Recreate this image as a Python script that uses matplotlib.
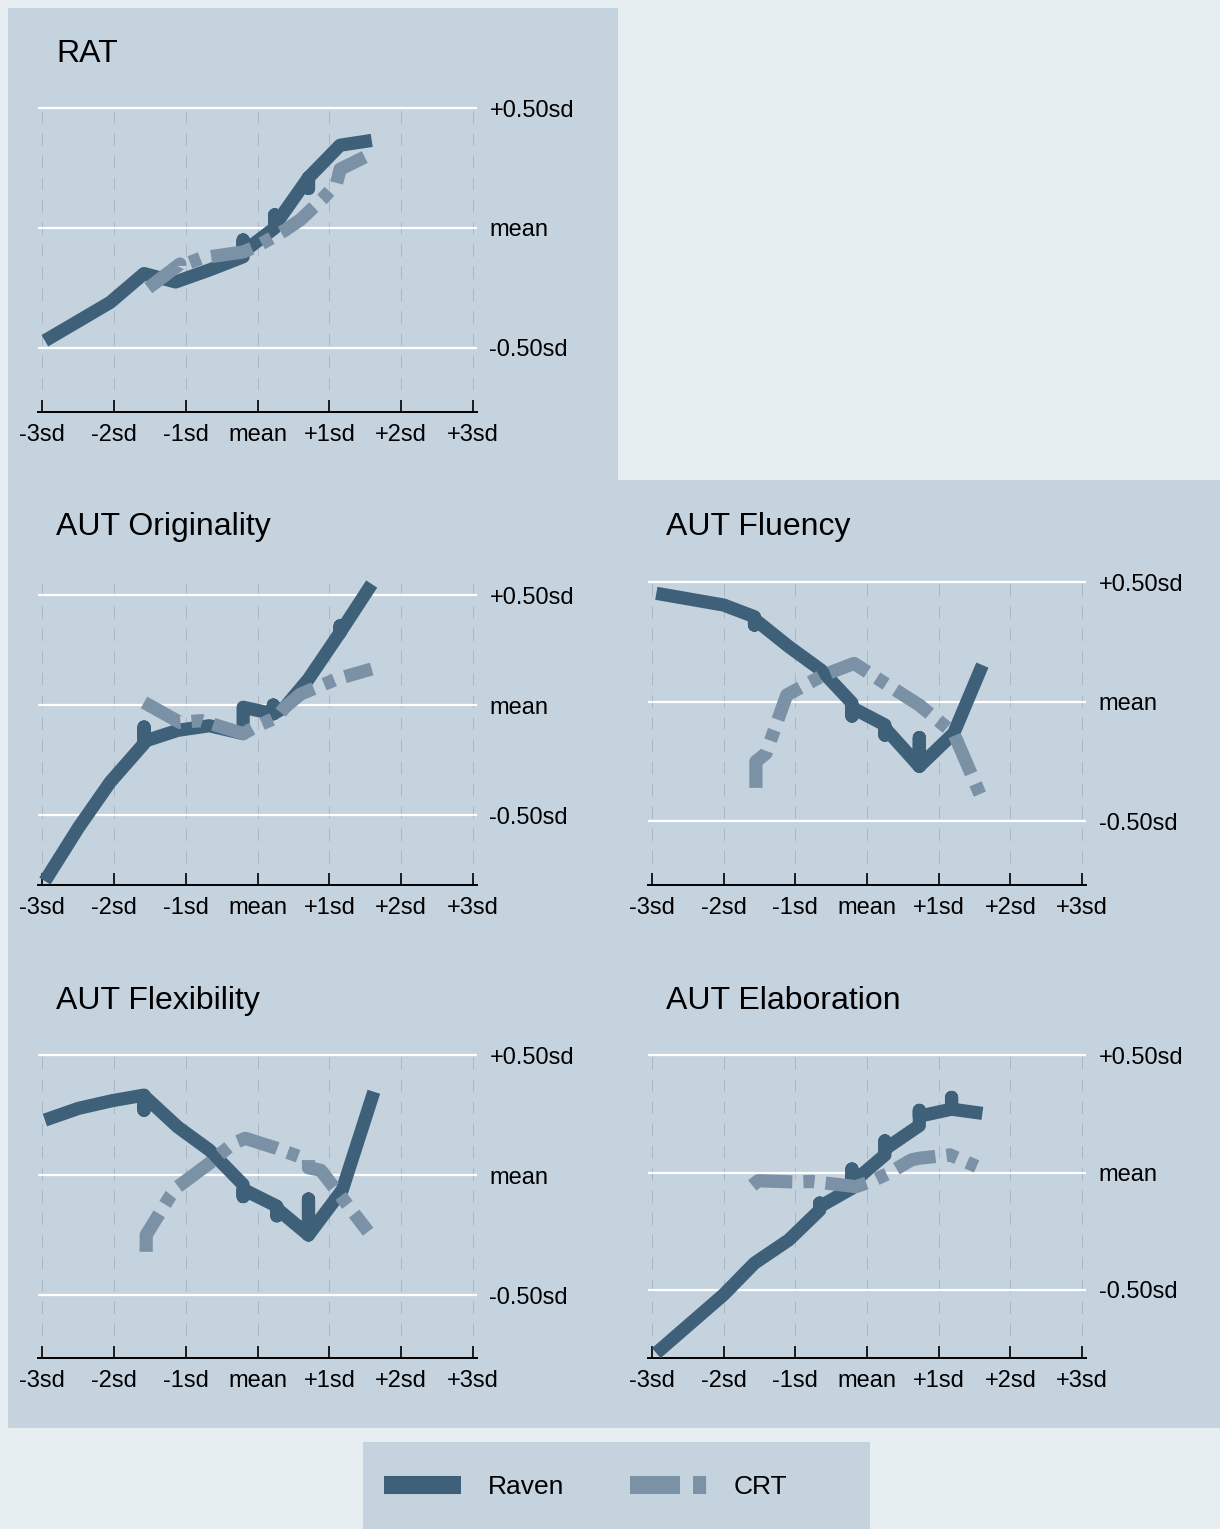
import matplotlib
matplotlib.use('Agg')
import matplotlib.pyplot as plt
from matplotlib.patches import Rectangle
from matplotlib.lines import Line2D

plt.rcParams['font.family'] = ['Liberation Sans', 'DejaVu Sans']
plt.rcParams['lines.scale_dashes'] = False

W, H = 1220, 1529

# ---- data (in sd units) ----
xticks = [-3, -2, -1, 0, 1, 2, 3]
xlabels = ['-3sd', '-2sd', '-1sd', 'mean', '+1sd', '+2sd', '+3sd']
yticks = [-0.5, 0, 0.5]
ylabels = ['-0.50sd', 'mean', '+0.50sd']

rat_raven_x = [-2.96, -2.05, -1.58, -1.14, -0.67, -0.20, -0.20, -0.20, 0.24, 0.24, 0.24, 0.71, 0.71, 0.71, 1.15, 1.59]
rat_raven_y = [-0.47, -0.31, -0.19, -0.225, -0.175, -0.12, -0.05, -0.10, 0.00, 0.055, 0.01, 0.21, 0.165, 0.21, 0.345, 0.365]
rat_crt_x = [-1.52, -1.08, -1.08, -0.78, -0.20, 0.0, 0.38, 0.60, 0.90, 1.10, 1.15, 1.59]
rat_crt_y = [-0.25, -0.15, -0.16, -0.125, -0.10, -0.075, -0.01, 0.035, 0.12, 0.185, 0.245, 0.31]

orig_raven_x = [-2.96, -2.49, -2.05, -1.58, -1.58, -1.58, -1.11, -0.67, -0.20, -0.20, 0.22, 0.22, 0.22, 0.38, 0.71, 1.15, 1.15, 1.15, 1.59]
orig_raven_y = [-0.80, -0.556, -0.35, -0.175, -0.10, -0.165, -0.115, -0.094, -0.13, -0.01, -0.04, 0.0, -0.04, -0.01, 0.118, 0.33, 0.36, 0.33, 0.55]
orig_crt_x = [-1.58, -1.08, -0.78, -0.20, 0.0, 0.27, 0.38, 0.60, 1.10, 1.59]
orig_crt_y = [0.012, -0.079, -0.071, -0.13, -0.094, -0.056, -0.01, 0.05, 0.118, 0.164]

flu_raven_x = [-2.94, -2.0, -1.57, -1.57, -1.57, -1.09, -0.64, -0.21, -0.21, -0.21, 0.25, 0.25, 0.25, 0.73, 0.73, 0.73, 1.21, 1.61]
flu_raven_y = [0.453, 0.404, 0.355, 0.32, 0.345, 0.23, 0.132, -0.005, -0.06, -0.025, -0.097, -0.14, -0.11, -0.27, -0.15, -0.27, -0.132, 0.153]
flu_crt_x = [-1.55, -1.55, -1.41, -1.12, -0.61, -0.18, 0.25, 0.73, 1.21, 1.61]
flu_crt_y = [-0.36, -0.25, -0.216, 0.028, 0.111, 0.16, 0.077, -0.014, -0.132, -0.41]

flex_raven_x = [-2.96, -2.49, -2.02, -1.58, -1.58, -1.58, -1.11, -0.67, -0.20, -0.20, -0.20, 0.27, 0.27, 0.27, 0.71, 0.71, 0.71, 1.18, 1.62]
flex_raven_y = [0.229, 0.278, 0.31, 0.333, 0.27, 0.33, 0.20, 0.104, -0.04, -0.09, -0.06, -0.13, -0.17, -0.14, -0.25, -0.10, -0.25, -0.0625, 0.347]
flex_crt_x = [-1.55, -1.55, -1.22, -1.11, -0.67, -0.34, -0.17, 0.27, 0.71, 0.71, 0.88, 1.54]
flex_crt_y = [-0.32, -0.25, -0.09, -0.049, 0.049, 0.132, 0.153, 0.111, 0.0625, 0.03, 0.02, -0.236]

elab_raven_x = [-2.94, -2.0, -1.57, -1.09, -0.66, -0.66, -0.66, -0.21, -0.21, -0.21, 0.25, 0.25, 0.25, 0.73, 0.73, 0.73, 1.18, 1.18, 1.18, 1.61]
elab_raven_y = [-0.769, -0.52, -0.386, -0.287, -0.16, -0.13, -0.145, -0.067, 0.015, -0.045, 0.075, 0.135, 0.10, 0.20, 0.265, 0.24, 0.27, 0.32, 0.27, 0.252]
elab_crt_x = [-1.60, -1.52, -1.01, -0.77, -0.155, 0.06, 0.30, 0.62, 0.73, 1.16, 1.53]
elab_crt_y = [-0.055, -0.035, -0.04, -0.038, -0.06, -0.038, -0.003, 0.054, 0.061, 0.075, 0.026]

raven_col = '#3e6079'
crt_col = '#7b91a6'
panel_col = '#c5d3df'
outer_col = '#e6eef1'
vgrid_col = '#abb8c4'

fig = plt.figure(figsize=(W / 100, H / 100), dpi=100, facecolor=outer_col)


def box(x0, y0, x1, y1):
    # rectangle given in pixels from the top-left corner
    fig.patches.append(Rectangle((x0 / W, 1 - y1 / H), (x1 - x0) / W, (y1 - y0) / H,
                                 transform=fig.transFigure, facecolor=panel_col,
                                 edgecolor='none', zorder=-5))


box(8, 8, 618, 481)
box(8, 480, 1220, 1428)
box(363, 1442, 870, 1529)

# title, data, plot region in pixels (left, right, top, bottom), y limits
panels = [
    ('RAT', rat_raven_x, rat_raven_y, rat_crt_x, rat_crt_y, (38, 477, 103, 412), (-0.767, 0.521), (56, 62)),
    ('AUT Originality', orig_raven_x, orig_raven_y, orig_crt_x, orig_crt_y, (38, 477, 577, 885), (-0.818, 0.582), (56, 535)),
    ('AUT Fluency', flu_raven_x, flu_raven_y, flu_crt_x, flu_crt_y, (648, 1086, 578, 885), (-0.766, 0.517), (666, 535)),
    ('AUT Flexibility', flex_raven_x, flex_raven_y, flex_crt_x, flex_crt_y, (38, 477, 1050, 1358), (-0.7625, 0.521), (56, 1009)),
    ('AUT Elaboration', elab_raven_x, elab_raven_y, elab_crt_x, elab_crt_y, (648, 1086, 1050, 1358), (-0.79, 0.522), (666, 1009)),
]

for title, rx, ry, cx, cy, (l, r, t, b), ylim, (tx, ty) in panels:
    ax = fig.add_axes([l / W, 1 - b / H, (r - l) / W, (b - t) / H])
    ax.set_zorder(1)
    ax.patch.set_visible(False)
    ax.set_xlim(-3.056, 3.056)
    ax.set_ylim(*ylim)
    for s in ['top', 'left', 'right']:
        ax.spines[s].set_visible(False)
    ax.spines['bottom'].set_linewidth(1.4)
    ax.set_xticks(xticks)
    ax.set_xticklabels(xlabels)
    ax.yaxis.tick_right()
    ax.set_yticks(yticks)
    ax.set_yticklabels(ylabels)
    ax.tick_params(axis='x', direction='in', length=8.5, width=1.2, pad=8.5, labelsize=17)
    ax.tick_params(axis='y', length=0, pad=9, labelsize=17)
    for x in xticks:
        ax.axvline(x, color=vgrid_col, lw=0.7, ls=(0, (9, 7)), zorder=1)
    for y in yticks:
        ax.axhline(y, color='white', lw=1.6, zorder=1)
    ax.plot(rx, ry, color=raven_col, lw=9.5, solid_joinstyle='round', solid_capstyle='butt', zorder=3)
    ax.plot(cx, cy, color=crt_col, lw=9.5, dashes=(30, 8, 8, 8), dash_capstyle='butt',
            dash_joinstyle='round', zorder=4)
    fig.text(tx / W, 1 - ty / H, title, fontsize=23, ha='left', va='baseline')

handles = [Line2D([], [], color=raven_col, lw=13, solid_capstyle='butt'),
           Line2D([], [], color=crt_col, lw=13, dashes=(36, 9.4, 9.4, 9.4), dash_capstyle='butt')]
fig.legend(handles, ['Raven', 'CRT'], loc='center left', bbox_to_anchor=(384 / W, 1 - 1487 / H),
           ncol=2, frameon=False, fontsize=19, handlelength=2.92, handletextpad=1.0,
           columnspacing=2.5, borderpad=0, borderaxespad=0)

fig.savefig('out.png', dpi=100, facecolor=outer_col)
